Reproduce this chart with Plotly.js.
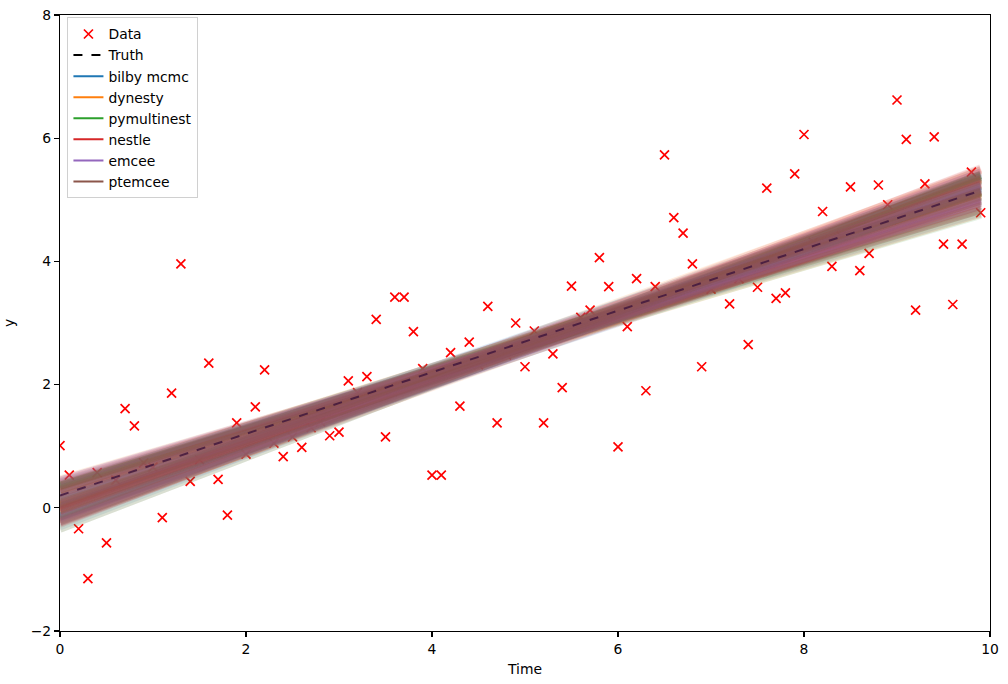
<!DOCTYPE html>
<html>
<head>
<meta charset="utf-8">
<script src="https://cdn.plot.ly/plotly-3.0.1.min.js"></script>
<style>html,body{margin:0;padding:0;background:#fff;}#chart{width:1008px;height:684px;}</style>
</head>
<body>
<div id="chart"></div>
<script>
// ---- Data ----
const time = [
  0.0,0.1,0.2,0.3,0.4,0.5,0.6,0.7,0.8,0.9,
  1.0,1.1,1.2,1.3,1.4,1.5,1.6,1.7,1.8,1.9,
  2.0,2.1,2.2,2.3,2.4,2.5,2.6,2.7,2.8,2.9,
  3.0,3.1,3.2,3.3,3.4,3.5,3.6,3.7,3.8,3.9,
  4.0,4.1,4.2,4.3,4.4,4.5,4.6,4.7,4.8,4.9,
  5.0,5.1,5.2,5.3,5.4,5.5,5.6,5.7,5.8,5.9,
  6.0,6.1,6.2,6.3,6.4,6.5,6.6,6.7,6.8,6.9,
  7.0,7.1,7.2,7.3,7.4,7.5,7.6,7.7,7.8,7.9,
  8.0,8.1,8.2,8.3,8.4,8.5,8.6,8.7,8.8,8.9,
  9.0,9.1,9.2,9.3,9.4,9.5,9.6,9.7,9.8,9.9
];
const dataY = [
  1.01,0.53,-0.34,-1.15,0.57,-0.57,0.45,1.61,1.33,0.73,
  0.66,-0.16,1.86,3.96,0.43,0.78,2.35,0.46,-0.12,1.38,
  0.87,1.64,2.24,1.05,0.83,1.15,0.98,1.30,1.40,1.17,
  1.23,2.06,1.87,2.13,3.06,1.15,3.42,3.42,2.86,2.26,
  0.53,0.53,2.52,1.65,2.69,2.32,3.27,1.38,2.48,3.00,
  2.29,2.87,1.38,2.50,1.95,3.60,3.09,3.21,4.06,3.59,
  0.99,2.94,3.72,1.90,3.59,5.73,4.71,4.46,3.96,2.29,
  3.55,3.70,3.31,3.72,2.65,3.58,5.19,3.40,3.49,5.42,
  6.06,4.31,4.81,3.92,4.41,5.21,3.85,4.13,5.24,4.92,
  6.62,5.98,3.21,5.26,6.02,4.28,3.30,4.28,5.45,4.79
];
const truthSlope = 0.5;
const truthIntercept = 0.2;

const samplerNames = ["bilby mcmc","dynesty","pymultinest","nestle","emcee","ptemcee"];
const samplerColors = ["#1f77b4","#ff7f0e","#2ca02c","#d62728","#9467bd","#8c564b"];

const bilbySlope = [0.516,0.480,0.560,0.500,0.532,0.452,0.548,0.508,0.580,0.488,0.524,0.468,0.540,0.496,0.564,0.444,0.512,0.536,0.476,0.552];
const bilbyIntercept = [0.00,0.32,-0.15,0.00,0.13,0.41,-0.13,0.20,-0.30,0.19,-0.12,0.35,-0.16,0.28,-0.18,0.40,0.24,-0.15,0.33,-0.14];
const dynestySlope = [0.552,0.476,0.536,0.512,0.444,0.564,0.496,0.540,0.468,0.524,0.488,0.580,0.508,0.548,0.452,0.532,0.500,0.560,0.480,0.516];
const dynestyIntercept = [-0.22,0.38,-0.01,0.05,0.46,-0.24,0.15,-0.20,0.35,-0.08,0.30,-0.26,0.05,0.05,0.30,0.05,0.12,-0.20,0.30,0.07];
const multinestSlope = [0.452,0.548,0.508,0.580,0.488,0.524,0.468,0.540,0.496,0.564,0.444,0.512,0.536,0.476,0.552,0.516,0.480,0.560,0.500,0.532];
const multinestIntercept = [0.36,-0.02,0.11,-0.34,0.30,0.05,0.27,0.02,0.08,-0.20,0.36,0.13,-0.14,0.34,-0.10,0.01,0.36,-0.22,0.18,-0.04];
const nestleSlope = [0.552,0.476,0.536,0.512,0.444,0.564,0.496,0.540,0.468,0.524,0.488,0.580,0.508,0.548,0.452,0.532,0.500,0.560,0.480,0.516];
const nestleIntercept = [-0.02,0.24,-0.05,-0.06,0.44,-0.24,0.24,-0.04,0.28,0.16,0.12,-0.23,0.08,-0.16,0.42,-0.01,0.04,-0.05,0.27,0.03];
const emceeSlope = [0.524,0.468,0.540,0.496,0.564,0.444,0.512,0.536,0.476,0.552,0.516,0.480,0.560,0.500,0.532,0.452,0.548,0.508,0.580,0.488];
const emceeIntercept = [0.00,0.37,-0.17,0.30,-0.22,0.45,0.16,-0.14,0.31,-0.24,0.05,0.22,-0.10,0.11,0.01,0.44,-0.20,0.11,-0.26,0.14];
const ptemceeSlope = [0.444,0.512,0.536,0.476,0.552,0.516,0.480,0.560,0.500,0.532,0.452,0.548,0.508,0.580,0.488,0.524,0.468,0.540,0.496,0.564];
const ptemceeIntercept = [0.38,0.13,-0.14,0.34,-0.10,0.01,0.36,-0.22,0.18,-0.04,0.36,-0.02,0.11,-0.34,0.30,0.05,0.27,0.02,0.08,-0.20];

const samplerSlopes = [bilbySlope,dynestySlope,multinestSlope,nestleSlope,emceeSlope,ptemceeSlope];
const samplerIntercepts = [bilbyIntercept,dynestyIntercept,multinestIntercept,nestleIntercept,emceeIntercept,ptemceeIntercept];

// ---- Build traces ----
function hexToRgba(hex, a){
  const r=parseInt(hex.slice(1,3),16), g=parseInt(hex.slice(3,5),16), b=parseInt(hex.slice(5,7),16);
  return `rgba(${r},${g},${b},${a})`;
}
const traces = [];
traces.push({
  x: time, y: dataY, type:'scatter', mode:'markers', name:'Data',
  marker:{symbol:'x-thin', size:9, color:'red', line:{color:'red', width:1.7}}
});
const tx = [time[0], time[time.length-1]];
const truthY = tx.map(t => truthSlope*t + truthIntercept);
// legend entry for Truth (black dashed)
traces.push({x:[null], y:[null], type:'scatter', mode:'lines', name:'Truth', line:{color:'black', dash:'dash', width:2}});
samplerNames.forEach((n,i) => {
  traces.push({x:[null], y:[null], type:'scatter', mode:'lines', name:n, line:{color:samplerColors[i], width:2}});
});
samplerNames.forEach((n,i) => {
  const ms = samplerSlopes[i], cs = samplerIntercepts[i];
  for (let k=0;k<ms.length;k++){
    traces.push({
      x: tx, y: tx.map(t => ms[k]*t + cs[k]), type:'scatter', mode:'lines',
      showlegend:false, hoverinfo:'skip',
      line:{color:hexToRgba(samplerColors[i],0.12), width:8}
    });
  }
});
// truth line, seen through the posterior band
traces.push({
  x: tx, y: truthY, type:'scatter', mode:'lines', showlegend:false, hoverinfo:'skip',
  line:{color:'rgba(60,20,60,0.8)', dash:'dash', width:2}
});

const font = {family:'DejaVu Sans, sans-serif', size:13.9, color:'#000'};
const axisCommon = {
  showgrid:false, zeroline:false, showline:true, mirror:true, linecolor:'#000', linewidth:1.1,
  ticks:'outside', ticklen:5, tickwidth:1.1, tickcolor:'#000', tickfont:font
};
const layout = {
  width:1008, height:684,
  margin:{l:60, r:18, t:15, b:53},
  paper_bgcolor:'#fff', plot_bgcolor:'#fff',
  font:font,
  showlegend:true,
  legend:{x:0.008, y:0.996, xanchor:'left', yanchor:'top', bgcolor:'rgba(255,255,255,0.8)',
          bordercolor:'#d0d0d0', borderwidth:1, font:font, tracegroupgap:0},
  xaxis:Object.assign({}, axisCommon, {range:[0,10], tickvals:[0,2,4,6,8,10],
          title:{text:'Time', font:font, standoff:8}}),
  yaxis:Object.assign({}, axisCommon, {range:[-2,8], tickvals:[-2,0,2,4,6,8],
          title:{text:'y', font:font, standoff:12}})
};
Plotly.newPlot('chart', traces, layout, {displayModeBar:false, staticPlot:true});
</script>
</body>
</html>
